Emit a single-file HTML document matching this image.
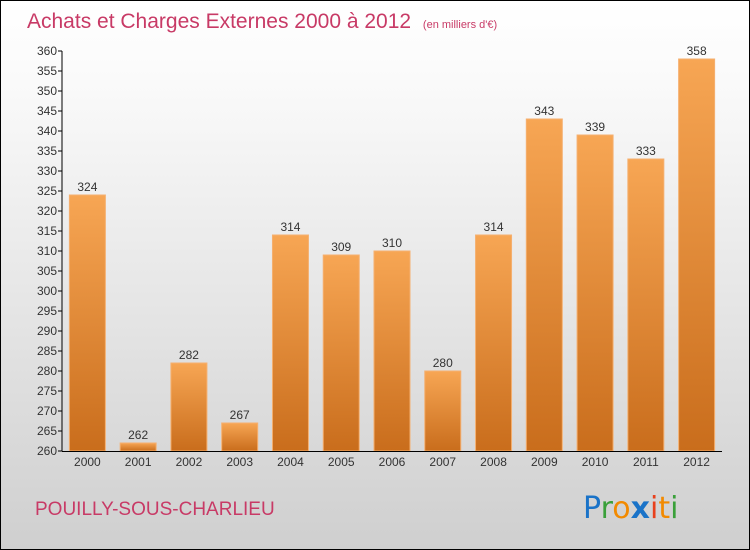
<!DOCTYPE html>
<html><head><meta charset="utf-8"><style>
body{margin:0}
#c{width:748px;height:548px;border:1px solid #000;background:linear-gradient(#fff,#fafafa 15%,#cfcfcf);position:relative;font-family:"Liberation Sans",sans-serif;overflow:hidden}
</style></head><body>
<div id="c">
<svg id="s" width="748" height="548">
<defs><linearGradient id="g" x1="0" y1="0" x2="0" y2="1"><stop offset="0" stop-color="#f7a654"/><stop offset="1" stop-color="#c96d1c"/></linearGradient></defs>
<text x="26" y="27" font-size="21" fill="#c83a66" font-family="Liberation Sans">Achats et Charges Externes 2000 à 2012 <tspan font-size="11" dx="6">(en milliers d'€)</tspan></text>
<text x="34" y="514" font-size="19" fill="#c83a66" font-family="Liberation Sans">POUILLY-SOUS-CHARLIEU</text>
<g font-size="30" font-family="DejaVu Sans">
<text x="582" y="517" fill="#1a73c8">P<tspan fill="#3aa03a">r</tspan><tspan fill="#f28a00">o</tspan><tspan fill="#1a73c8" font-weight="bold">x</tspan><tspan fill="#e8401c">i</tspan><tspan fill="#f28a00">t</tspan><tspan fill="#3aa03a">i</tspan></text>
</g>
</svg>
</div>
<script>
const years=["2000","2001","2002","2003","2004","2005","2006","2007","2008","2009","2010","2011","2012"];
const values=[324,262,282,267,314,309,310,280,314,343,339,333,358];
const yTicks=[260,265,270,275,280,285,290,295,300,305,310,315,320,325,330,335,340,345,350,355,360];
const s=document.getElementById('s');const NS='http://www.w3.org/2000/svg';
const x0=61,x1=721,yTop=50,yBot=450,vmin=260,vmax=360;
const y=v=>yBot-(v-vmin)/(vmax-vmin)*(yBot-yTop);
const step=(x1-x0)/years.length;const bw=36;
function mk(t,a){const e=document.createElementNS(NS,t);for(const k in a)e.setAttribute(k,a[k]);s.appendChild(e);return e;}
yTicks.forEach(v=>{const l=mk('line',{x1:x0-4,x2:x0,y1:y(v),y2:y(v),stroke:'#000'});


const t=mk('text',{x:x0-5,y:y(v)+4,'text-anchor':'end','font-size':'12',fill:'#333'});t.textContent=v;

});
years.forEach((yr,i)=>{const cx=x0+step*(i+0.5);const v=values[i];
const r=mk('rect',{x:cx-bw/2,y:y(v),width:bw,height:yBot-y(v),fill:'url(#g)',stroke:'#f5b070','stroke-width':1});


const t=mk('text',{x:cx,y:y(v)-4,'text-anchor':'middle','font-size':'12',fill:'#333'});t.textContent=v;


const xl=mk('text',{x:cx,y:yBot+15,'text-anchor':'middle','font-size':'12',fill:'#333'});xl.textContent=yr;

});
const ya=mk('line',{x1:x0,x2:x0,y1:yTop,y2:yBot,stroke:'#000'});


const xa=mk('line',{x1:x0,x2:x1,y1:yBot+0.5,y2:yBot+0.5,stroke:'#000'});


</script>
</body></html>
